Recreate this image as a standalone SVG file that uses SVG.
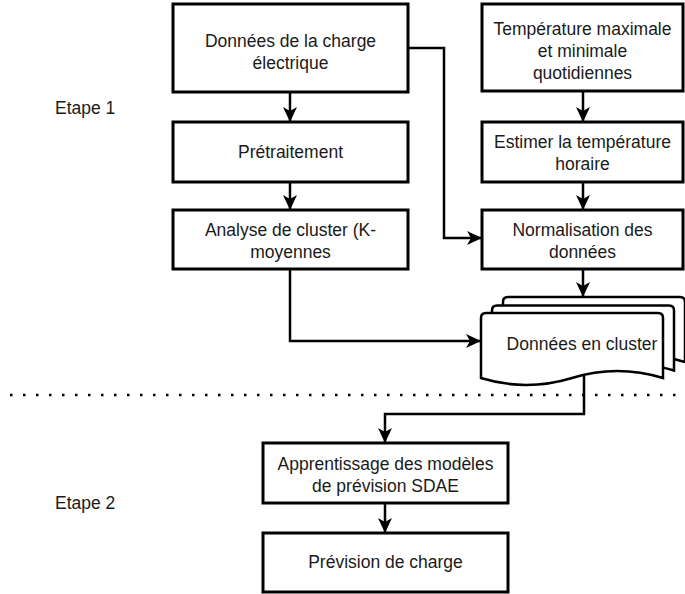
<svg xmlns="http://www.w3.org/2000/svg" width="685" height="594" viewBox="0 0 685 594">
<defs>
<marker id="arr" markerUnits="userSpaceOnUse" markerWidth="18" markerHeight="16" refX="15" refY="7" orient="auto">
<path d="M0,0 L15,7 L0,14 L4,7 Z" fill="#000"/>
</marker>
<style>
.box{fill:#fff;stroke:#000;stroke-width:3}
.doc{fill:#fff;stroke:#000;stroke-width:2.5}
.t{font-family:"Liberation Sans",Arial,sans-serif;font-size:17.5px;fill:#1a1a1a;text-anchor:middle}
.lbl{font-family:"Liberation Sans",Arial,sans-serif;font-size:17.5px;fill:#1a1a1a}
.c{fill:none;stroke:#000;stroke-width:2.5}
</style>
</defs>
<rect width="685" height="594" fill="#fff"/>
<line x1="10" y1="395" x2="685" y2="395" stroke="#000" stroke-width="2.5" stroke-dasharray="2.5 10.5"/>
<text class="lbl" x="55" y="114">Etape 1</text>
<text class="lbl" x="55" y="509">Etape 2</text>
<g id="connectors">
<path class="c" d="M290,92 L290,122" marker-end="url(#arr)"/>
<path class="c" d="M290,182 L290,210" marker-end="url(#arr)"/>
<path class="c" d="M583,91 L583,122" marker-end="url(#arr)"/>
<path class="c" d="M583,182 L583,210" marker-end="url(#arr)"/>
<path class="c" d="M408,48 L444,48 L444,238 L482,238" marker-end="url(#arr)"/>
<path class="c" d="M290,269 L290,341 L481,341" marker-end="url(#arr)"/>
<path class="c" d="M583,269 L583,297" marker-end="url(#arr)"/>
<path class="c" d="M584,376 L584,414 L385,414 L385,443" marker-end="url(#arr)"/>
<path class="c" d="M385,503 L385,533" marker-end="url(#arr)"/>
</g>
<g id="n1"><rect class="box" x="173" y="4" width="235" height="88"/><text class="t" x="290.5" y="47">Données de la charge</text><text class="t" x="290.5" y="69">électrique</text></g>
<g id="n2"><rect class="box" x="482" y="4" width="201" height="87"/><text class="t" x="582.5" y="35">Température maximale</text><text class="t" x="582.5" y="57">et minimale</text><text class="t" x="582.5" y="79">quotidiennes</text></g>
<g id="n3"><rect class="box" x="173" y="122" width="235" height="60"/><text class="t" x="290.5" y="158">Prétraitement</text></g>
<g id="n4"><rect class="box" x="482" y="122" width="201" height="60"/><text class="t" x="582.5" y="148">Estimer la température</text><text class="t" x="582.5" y="170">horaire</text></g>
<g id="n5"><rect class="box" x="173" y="210" width="235" height="59"/><text class="t" x="290.5" y="236">Analyse de cluster (K-</text><text class="t" x="290.5" y="258">moyennes</text></g>
<g id="n6"><rect class="box" x="482" y="210" width="201" height="59"/><text class="t" x="582.5" y="236">Normalisation des</text><text class="t" x="582.5" y="258">données</text></g>
<g id="n7">
<path class="doc" transform="translate(22,-16)" d="M481,378 L481,318 Q481,313 486,313 L658,313 Q663,313 663,318 L663,378 Q617,364 572,378 Q526,392 481,378 Z"/>
<path class="doc" transform="translate(11,-7.5)" d="M481,378 L481,318 Q481,313 486,313 L658,313 Q663,313 663,318 L663,378 Q617,364 572,378 Q526,392 481,378 Z"/>
<path class="doc" d="M481,378 L481,318 Q481,313 486,313 L658,313 Q663,313 663,318 L663,378 Q617,364 572,378 Q526,392 481,378 Z"/>
<text class="t" x="582" y="350">Données en cluster</text>
</g>
<g id="n8"><rect class="box" x="263" y="443" width="245" height="60"/><text class="t" x="385.5" y="470">Apprentissage des modèles</text><text class="t" x="385.5" y="492">de prévision SDAE</text></g>
<g id="n9"><rect class="box" x="263" y="533" width="245" height="59"/><text class="t" x="385.5" y="568">Prévision de charge</text></g>
</svg>
